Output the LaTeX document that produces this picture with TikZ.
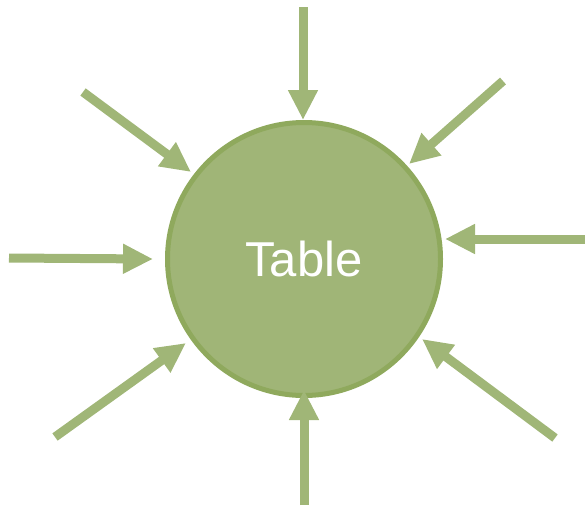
\documentclass[tikz,border=0pt]{standalone}
\usepackage{fontspec}
\setmainfont{Liberation Sans}
\usetikzlibrary{arrows.meta,positioning}

\definecolor{tablefill}{RGB}{160,181,119}
\definecolor{tableedge}{RGB}{143,169,93}
\definecolor{arrowgreen}{RGB}{160,182,119}

\tikzset{
    tablenode/.style={circle, draw=tableedge, line width=5pt, fill=tablefill,
        minimum size=273pt, inner sep=0pt, text=white, font=\fontsize{49}{49}\selectfont},
    inarrow/.style={draw=arrowgreen, line width=9pt,
        -{Triangle[width=28pt, length=30pt]}},
}

\begin{document}
\begin{tikzpicture}[x=1pt, y=-1pt]
    \useasboundingbox (0,0) rectangle (585,506);

    % central circle
    \node[tablenode] (table) at (304,259) {Table};

    % tails and tips of the incoming arrows
    \coordinate (s1) at (303,7);   \coordinate (e1) at (303,120);
    \coordinate (s2) at (83,92);   \coordinate (e2) at (191,172);
    \coordinate (s3) at (9,258);   \coordinate (e3) at (153,259);
    \coordinate (s4) at (55,437);  \coordinate (e4) at (186,343);
    \coordinate (s5) at (304,505); \coordinate (e5) at (304,390);
    \coordinate (s6) at (555,438); \coordinate (e6) at (422,339);
    \coordinate (s7) at (585,239); \coordinate (e7) at (445,239);
    \coordinate (s8) at (503,81);  \coordinate (e8) at (409,164);

    \foreach \i in {1,...,8}
        \draw[inarrow] (s\i) -- (e\i);
\end{tikzpicture}
\end{document}
